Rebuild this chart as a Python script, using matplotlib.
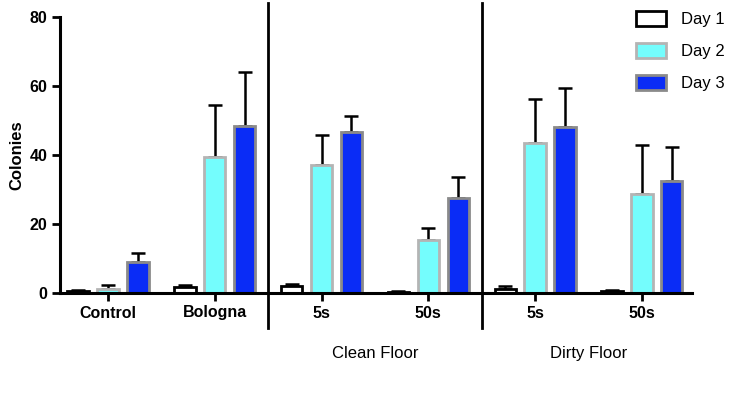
import numpy as np
import matplotlib
matplotlib.use("Agg")
import matplotlib.pyplot as plt
from matplotlib.patches import Patch

plt.rcParams["font.family"] = ["Liberation Sans", "DejaVu Sans"]

# =========================================================
# DATA
# =========================================================
groups = ["Control", "Bologna", "5s", "50s", "5s", "50s"]
series = ["Day 1", "Day 2", "Day 3"]
day1 = [0.7, 1.7, 1.9, 0.3, 1.3, 0.6]
day1_err = [0.3, 0.7, 0.8, 0.3, 0.8, 0.4]
day2 = [1.3, 39.5, 37.0, 15.5, 43.4, 28.6]
day2_err = [0.9, 14.9, 8.7, 3.2, 12.8, 14.2]
day3 = [8.9, 48.4, 46.7, 27.5, 48.1, 32.4]
day3_err = [2.7, 15.7, 4.6, 6.1, 11.3, 9.9]
sections = ["Clean Floor", "Dirty Floor"]

# =========================================================
# PLOT
# =========================================================
fig = plt.figure(figsize=(7.3, 3.94), dpi=100)
ax = fig.add_axes([60 / 730, 101 / 394, 632 / 730, 276 / 394])

x = np.arange(len(groups))
step = 0.28
width = 0.2
styles = [
    dict(facecolor="white", edgecolor="black"),
    dict(facecolor="#74fdfd", edgecolor="#b4b4b4"),
    dict(facecolor="#0a2cf6", edgecolor="#8a8a8a"),
]
vals = [day1, day2, day3]
errs = [day1_err, day2_err, day3_err]

for i in range(3):
    pos = x + (i - 1) * step
    ax.bar(pos, vals[i], width, linewidth=2, zorder=2, **styles[i])
    ax.errorbar(pos, vals[i], yerr=[np.zeros(len(groups)), errs[i]],
                fmt="none", ecolor="black", elinewidth=1.8, capsize=5,
                capthick=1.8, zorder=1)

ax.set_xlim(-0.45, 5.47)
ax.set_ylim(0, 80)
ax.set_yticks([0, 20, 40, 60, 80])
ax.set_xticks(x)
ax.set_xticklabels(groups)
for lab in ax.get_xticklabels() + ax.get_yticklabels():
    lab.set_fontweight("bold")
    lab.set_fontsize(11.5)
ax.tick_params(width=2, length=6, direction="out", pad=3)

for s in ["top", "right"]:
    ax.spines[s].set_visible(False)
for s in ["left", "bottom"]:
    ax.spines[s].set_linewidth(2.2)

ax.set_ylabel("Colonies", fontsize=12, fontweight="bold", labelpad=4)

# separators between sections
trans = ax.get_xaxis_transform()
for xs in [1.5, 3.5]:
    ax.plot([xs, xs], [-0.126, 1.052], color="black", lw=2,
            transform=trans, clip_on=False)

for xs, name in zip([2.5, 4.5], sections):
    ax.text(xs, -0.22, name, transform=trans, ha="center", va="center",
            fontsize=12)

handles = [Patch(linewidth=2, **st) for st in styles]
ax.legend(handles, series, loc="upper right", bbox_to_anchor=(1.075, 1.075),
          frameon=False, fontsize=12, handlelength=1.8, handleheight=1.0,
          labelspacing=0.95, handletextpad=0.9)

fig.savefig("out.png", dpi=100)
